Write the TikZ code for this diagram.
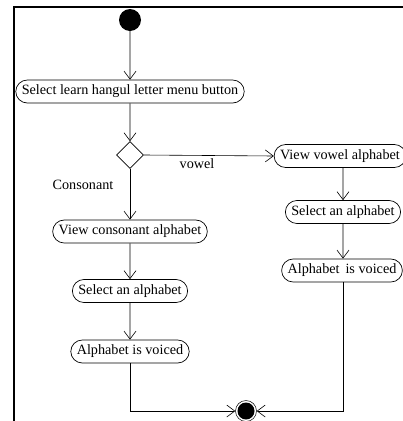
\documentclass[tikz,border=0pt]{standalone}
\usepackage{fontspec}
\setmainfont{Liberation Serif}
\usetikzlibrary{shapes.misc,shapes.geometric,arrows.meta}
\begin{document}
\begin{tikzpicture}[x=1pt,y=-1pt,
  act/.style={rounded rectangle, draw, line width=0.7pt, minimum height=23pt, inner xsep=4pt, inner ysep=2pt, font=\fontsize{14.2}{16}\selectfont},
  flow/.style={draw, line width=0.6pt, -{Straight Barb[length=8pt,width=12pt,line width=0.6pt]}},
  lbl/.style={font=\fontsize{14.2}{16}\selectfont}]
\useasboundingbox (0,0) rectangle (403,421);
\begin{scope}
\clip (0,0) rectangle (403,421);
\draw[line width=2pt] (13.5,430) -- (13.5,7) -- (410,7);
\node[circle, fill, minimum size=22pt, inner sep=0] (init) at (130,20) {};
\node[act] (n1) at (130,91.5) {Select learn hangul letter menu button};
\node[diamond, draw, line width=0.6pt, minimum width=27pt, minimum height=27pt, inner sep=0] (dec) at (130,155) {};
\node[act] (vv) at (340,156) {View vowel alphabet};
\node[act] (vc) at (130,231.5) {View consonant alphabet};
\node[act] (sl) at (130,291) {Select an alphabet};
\node[act] (al) at (130,351.5) {Alphabet is voiced};
\node[act] (sr) at (343,212) {Select an alphabet};
\node[act] (ar) at (342,270.5) {Alphabet\, is voiced};
\node[circle, draw, line width=0.5pt, minimum size=21pt, inner sep=0] (fin) at (246,411) {};
\node[circle, fill, minimum size=17pt, inner sep=0] at (fin) {};
\draw[flow] (init) -- (n1);
\draw[flow] (n1) -- (dec);
\draw[flow] (dec.east) -- node[lbl, below=0pt, pos=0.41] {vowel} (vv.west);
\draw[flow] (dec.south) -- (vc.north);
\node[lbl] (cl) at (83,185) {Consonant};
\draw[flow] (vc) -- (sl);
\draw[flow] (sl) -- (al);
\draw[flow] (vv.south -| sr) -- (sr);
\draw[flow] (sr) -- (sr |- ar.north);
\draw[flow] (al.south) |- (fin.west);
\draw[flow] (ar.south -| sr) |- (fin.east);
\end{scope}
\end{tikzpicture}
\end{document}
